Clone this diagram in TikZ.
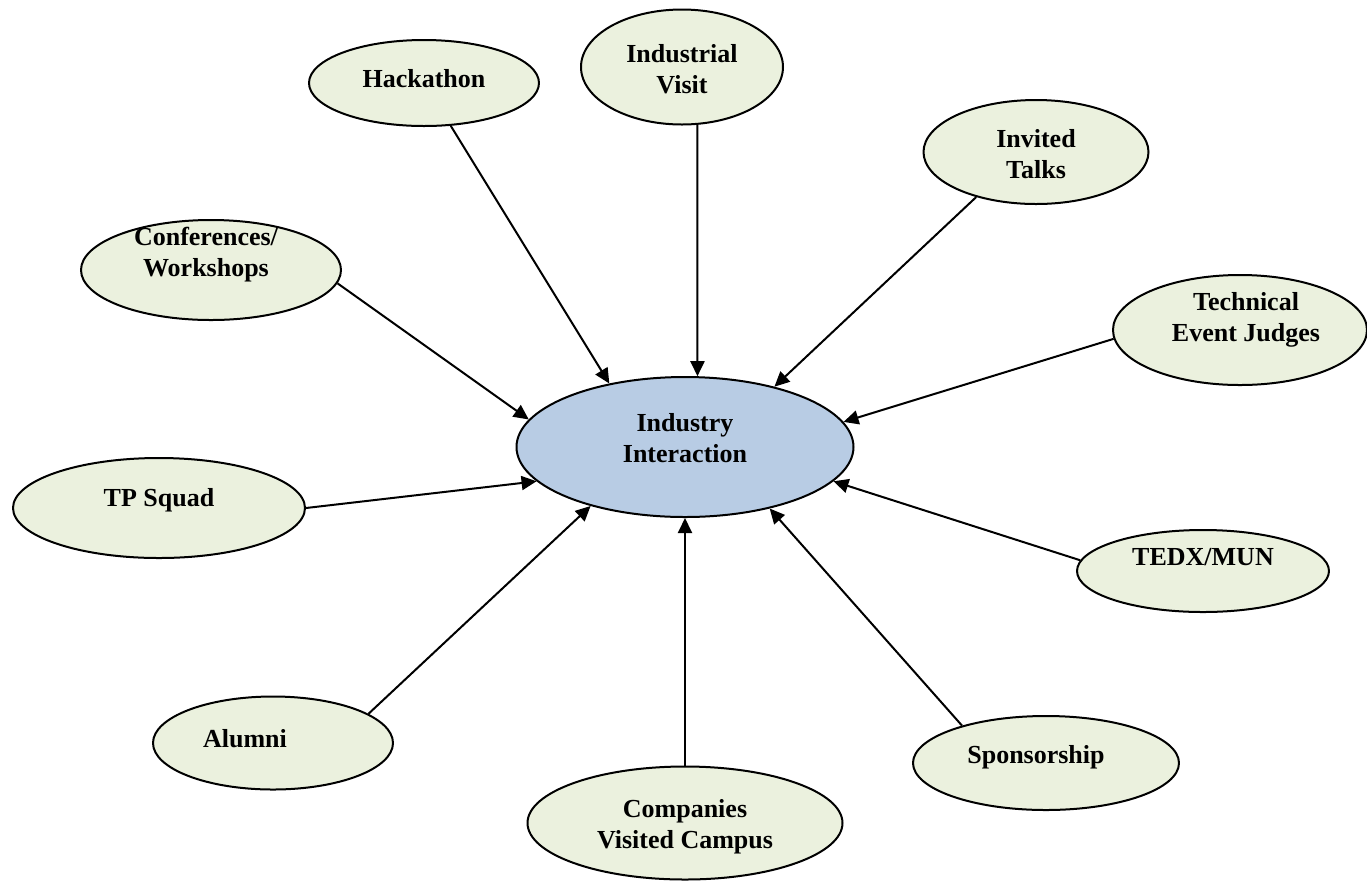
\documentclass[tikz,border=0pt]{standalone}
\usepackage{fontspec}
\setmainfont{Liberation Serif}
\usetikzlibrary{shapes.geometric,arrows.meta}
\definecolor{bubblegreen}{RGB}{235,241,222}
\definecolor{hubblue}{RGB}{184,204,228}
\tikzset{
  bubble/.style={ellipse, draw=black, line width=1pt, fill=bubblegreen, inner sep=0pt},
  hub/.style={bubble, fill=hubblue},
  tag/.style={font=\fontsize{13pt}{15.5pt}\selectfont\bfseries, align=center, inner sep=0pt},
  feed/.style={line width=1pt, -{Triangle[length=7.5pt,width=7pt]}}
}
\begin{document}
\begin{tikzpicture}[x=0.5pt, y=-0.5pt, line join=round]
\useasboundingbox (0,0) rectangle (1367,880);
\node[hub, minimum width=168.5pt, minimum height=70pt] (ii) at (685,447) {};
\node[tag] (ii-t) at (685,438) {Industry\\Interaction};
\node[bubble, minimum width=115pt, minimum height=43pt] (hack) at (424,83) {};
\node[tag] (hack-t) at (424,79) {Hackathon};
\node[bubble, minimum width=101pt, minimum height=57.5pt] (visit) at (682,67) {};
\node[tag] (visit-t) at (682,69) {Industrial\\Visit};
\node[bubble, minimum width=112.5pt, minimum height=52pt] (talks) at (1036,152) {};
\node[tag] (talks-t) at (1036,154) {Invited\\Talks};
\node[bubble, minimum width=130pt, minimum height=50pt] (conf) at (211,270) {};
\node[tag] (conf-t) at (206,255) {Conferences/\\Workshops};
\node[bubble, minimum width=127pt, minimum height=55pt] (judges) at (1240,330) {};
\node[tag] (judges-t) at (1246,320) {Technical\\Event Judges};
\node[bubble, minimum width=146pt, minimum height=50pt] (tp) at (159,508) {};
\node[tag] (tp-t) at (159,500) {TP Squad};
\node[bubble, minimum width=126pt, minimum height=41pt] (tedx) at (1203,571) {};
\node[tag] (tedx-t) at (1203,557) {TEDX/MUN};
\node[bubble, minimum width=120pt, minimum height=46.5pt] (alumni) at (273,743) {};
\node[tag] (alumni-t) at (245,739) {Alumni};
\node[bubble, minimum width=157.5pt, minimum height=56.5pt] (comp) at (685,823) {};
\node[tag] (comp-t) at (685,827) {Companies\\Visited Campus};
\node[bubble, minimum width=133pt, minimum height=47pt] (spons) at (1046,763) {};
\node[tag] (spons-t) at (1036,757) {Sponsorship};
\draw[feed] (hack.-58) -- (ii.140);
\draw[feed] (visit.-75) -- (ii.80);
\draw[feed] (talks.-143) -- (ii.34);
\draw[feed] (conf.-6) -- (ii.170);
\draw[feed] (judges.184) -- (ii.9);
\draw[feed] (tp.0) -- (ii.193);
\draw[feed] (tedx.175) -- (ii.-13);
\draw[feed] (alumni.17) -- (ii.-148);
\draw[feed] (comp.90) -- (ii.-90);
\draw[feed] (spons.156) -- (ii.-36);
\end{tikzpicture}
\end{document}
